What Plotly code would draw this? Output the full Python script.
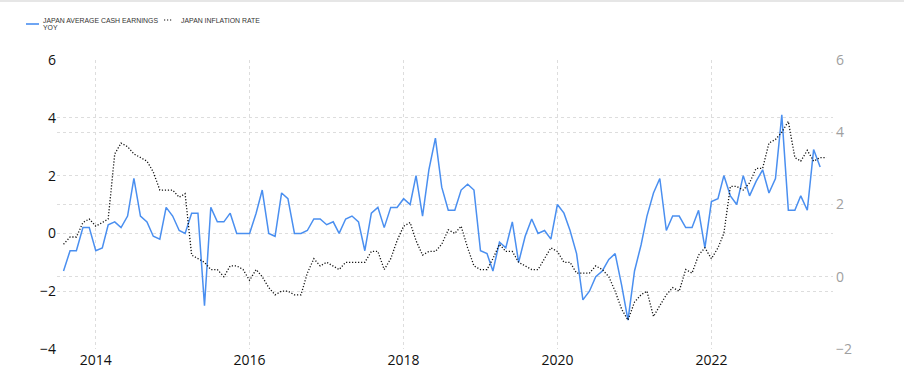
import pandas as pd
import plotly.graph_objects as go

# Japan average cash earnings YoY (%), monthly Aug 2013 - Jun 2023
earnings = [
    -1.3, -0.6, -0.6, 0.2, 0.2,
    -0.6, -0.5, 0.3, 0.4, 0.2, 0.6, 1.9, 0.6, 0.4, -0.1, -0.2, 0.9,
    0.6, 0.1, 0.0, 0.7, 0.7, -2.5, 0.9, 0.4, 0.4, 0.7, 0.0, 0.0,
    0.0, 0.7, 1.5, 0.0, -0.1, 1.4, 1.2, 0.0, 0.0, 0.1, 0.5, 0.5,
    0.3, 0.4, 0.0, 0.5, 0.6, 0.4, -0.6, 0.7, 0.9, 0.2, 0.9, 0.9,
    1.2, 1.0, 2.0, 0.6, 2.2, 3.3, 1.6, 0.8, 0.8, 1.5, 1.7, 1.5,
    -0.6, -0.7, -1.3, -0.3, -0.5, 0.4, -1.0, -0.1, 0.5, 0.0, 0.1, -0.2,
    1.0, 0.7, 0.1, -0.7, -2.3, -2.0, -1.5, -1.3, -0.9, -0.7, -1.8, -3.0,
    -1.3, -0.4, 0.6, 1.4, 1.9, 0.1, 0.6, 0.6, 0.2, 0.2, 0.8, -0.5,
    1.1, 1.2, 2.0, 1.3, 1.0, 2.0, 1.3, 1.8, 2.2, 1.4, 1.9, 4.1,
    0.8, 0.8, 1.3, 0.8, 2.9, 2.3,
]

# Japan inflation rate (%), monthly Aug 2013 - Jul 2023
inflation = [
    0.9, 1.1, 1.1, 1.5, 1.6,
    1.4, 1.5, 1.6, 3.4, 3.7, 3.6, 3.4, 3.3, 3.2, 2.9, 2.4, 2.4,
    2.4, 2.2, 2.3, 0.6, 0.5, 0.4, 0.2, 0.2, 0.0, 0.3, 0.3, 0.2,
    -0.1, 0.2, 0.0, -0.3, -0.5, -0.4, -0.4, -0.5, -0.5, 0.1, 0.5, 0.3,
    0.4, 0.3, 0.2, 0.4, 0.4, 0.4, 0.4, 0.7, 0.7, 0.2, 0.5, 1.0,
    1.4, 1.5, 1.0, 0.6, 0.7, 0.7, 0.9, 1.3, 1.2, 1.4, 0.8, 0.3,
    0.2, 0.2, 0.5, 0.9, 0.7, 0.7, 0.4, 0.3, 0.2, 0.2, 0.5, 0.8,
    0.7, 0.4, 0.4, 0.1, 0.1, 0.1, 0.3, 0.2, 0.0, -0.4, -0.9, -1.2,
    -0.7, -0.5, -0.4, -1.1, -0.8, -0.5, -0.3, -0.4, 0.2, 0.1, 0.6, 0.8,
    0.5, 0.8, 1.2, 2.5, 2.5, 2.4, 2.6, 3.0, 3.0, 3.7, 3.8, 4.0,
    4.3, 3.3, 3.2, 3.5, 3.2, 3.3, 3.3,
]

start = "2013-08-01"
earn_dates = pd.date_range(start, periods=len(earnings), freq="MS")
infl_dates = pd.date_range(start, periods=len(inflation), freq="MS")

x_ticks = ["2014-01-01", "2016-01-01", "2018-01-01", "2020-01-01", "2022-01-01"]
x_tick_labels = ["2014", "2016", "2018", "2020", "2022"]
left_ticks = [-4, -2, 0, 2, 4, 6]
right_ticks = [-2, 0, 2, 4, 6]

legend_earn = ["JAPAN AVERAGE CASH EARNINGS", "YOY"]
legend_infl = "JAPAN INFLATION RATE"

BLUE = "#4a8ff0"
GRID = "#dddddd"
FONT = "Open Sans"
DOT = "1.2px,1.8px"
GDASH = "3px,3px"

fig = go.Figure()
fig.add_trace(go.Scatter(x=earn_dates, y=earnings, mode="lines",
                         line=dict(color=BLUE, width=1.5), name=" ".join(legend_earn),
                         yaxis="y"))
fig.add_trace(go.Scatter(x=infl_dates, y=inflation, mode="lines",
                         line=dict(color="#111111", width=1.3, dash=DOT),
                         name=legend_infl, yaxis="y2"))

# pixel helpers for the hand-drawn legend (plot area 57..833 x, 60..349 y)
L, R, T, B = 57, 833, 60, 349
def px(x):
    return (x - L) / (R - L)
def py(y):
    return (B - y) / (B - T)

LEGFONT = dict(family="Liberation Sans", size=6.9, color="#333")
shapes = [
    dict(type="line", xref="paper", yref="paper", x0=px(26), x1=px(39), y0=py(24), y1=py(24),
         line=dict(color=BLUE, width=1.6)),
    dict(type="line", xref="paper", yref="paper", x0=px(164), x1=px(173), y0=py(20), y1=py(20),
         line=dict(color="#111111", width=1.2, dash=DOT)),
    dict(type="line", xref="paper", yref="paper", x0=px(0), x1=px(904), y0=py(1), y1=py(1),
         line=dict(color="#e6e6e6", width=2)),
]
annotations = [
    dict(xref="paper", yref="paper", x=px(41), y=py(20), text=legend_earn[0], showarrow=False,
         xanchor="left", yanchor="middle", font=LEGFONT),
    dict(xref="paper", yref="paper", x=px(41), y=py(27), text=legend_earn[1], showarrow=False,
         xanchor="left", yanchor="middle", font=LEGFONT),
    dict(xref="paper", yref="paper", x=px(179), y=py(20), text=legend_infl, showarrow=False,
         xanchor="left", yanchor="middle", font=LEGFONT),
]

fig.update_layout(
    width=904, height=388,
    margin=dict(l=L, r=904 - R, t=T, b=388 - B, pad=0),
    paper_bgcolor="white", plot_bgcolor="white",
    showlegend=False,
    font=dict(family=FONT, size=14, color="#111"),
    xaxis=dict(range=["2013-07-01", "2023-08-01"], tickvals=x_ticks, ticktext=x_tick_labels,
               showgrid=True, gridcolor=GRID, griddash=GDASH, gridwidth=1, automargin=False,
               showline=False, zeroline=False, ticks="", tickfont=dict(size=14, color="#111"),
               ticklabelstandoff=1),
    yaxis=dict(range=[-4, 6], tickvals=left_ticks, showgrid=True, gridcolor=GRID,
               griddash=GDASH, zeroline=False, showline=False, ticks="", automargin=False,
               tickfont=dict(size=14, color="#111"), ticklabelstandoff=0),
    yaxis2=dict(range=[-2, 6], tickvals=right_ticks, overlaying="y", side="right",
                showgrid=True, gridcolor=GRID, griddash=GDASH, zeroline=False, automargin=False,
                showline=False, ticks="", tickfont=dict(size=14, color="#a0a0a0"),
                ticklabelstandoff=2),
    shapes=shapes,
    annotations=annotations,
)

fig.write_html("out.html",
               config={"displayModeBar": False},
               post_script="document.body.style.margin='0';document.body.style.overflow='hidden';")
